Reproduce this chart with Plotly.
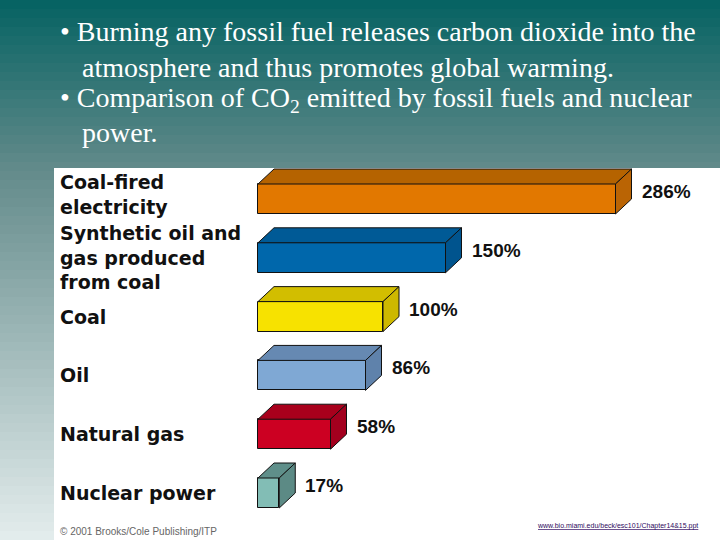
import plotly.graph_objects as go

# ---- data ----
categories = ["Coal-fired<br>electricity",
              "Synthetic oil and<br>gas produced<br>from coal",
              "Coal", "Oil", "Natural gas", "Nuclear power"]
values = [286, 150, 100, 86, 58, 17]
value_labels = ["286%", "150%", "100%", "86%", "58%", "17%"]
front_colors = ["#E27800", "#0067AB", "#F7E200", "#7FA8D4", "#CC0022", "#82BDB5"]
top_colors = ["#B56300", "#005A96", "#D2BE00", "#6689B2", "#A8001C", "#5F8F8A"]
side_colors = ["#BA6404", "#00548E", "#CDB800", "#5F82AB", "#A3001E", "#5C8A85"]
bullet_lines = [
    "\u2022 Burning any fossil fuel releases carbon dioxide into the",
    "atmosphere and thus promotes global warming.",
    "\u2022 Comparison of CO<sub>2</sub> emitted by fossil fuels and nuclear",
    "power.",
]

W, H = 720, 540
# axis geometry (px per unit)
x_scale = 1.25          # px per percent
x0_px = 258
row0_px, row_step = 199, 58.8
bar_h = 0.51
dx = 16 / x_scale       # depth in x units
dy = 15 / row_step      # depth in y units (upwards)

pos = list(range(len(values)))

fig = go.Figure()

# front faces
fig.add_trace(go.Bar(
    x=values, y=pos, orientation="h", width=bar_h,
    marker=dict(color=front_colors, line=dict(color="#111111", width=1)),
    hoverinfo="skip", showlegend=False))

# top and side faces
for v, p, tc, sc in zip(values, pos, top_colors, side_colors):
    yt = p - bar_h / 2
    yb = p + bar_h / 2
    fig.add_trace(go.Scatter(
        x=[0, v, v + dx, dx, 0], y=[yt, yt, yt - dy, yt - dy, yt],
        mode="lines", fill="toself", fillcolor=tc,
        line=dict(color="#111111", width=1), hoverinfo="skip", showlegend=False))
    fig.add_trace(go.Scatter(
        x=[v, v + dx, v + dx, v, v], y=[yt, yt - dy, yb - dy, yb, yt],
        mode="lines", fill="toself", fillcolor=sc,
        line=dict(color="#111111", width=1), hoverinfo="skip", showlegend=False))

annotations = []
# category labels
for i, (c, p) in enumerate(zip(categories, pos)):
    annotations.append(dict(
        x=58 / W, xref="paper", y=p, yref="y", text=c, showarrow=False,
        xanchor="left", yanchor="middle", align="left",
        yshift=5 if i == 0 else 0,
        font=dict(family="DejaVu Sans", size=19, color="#111111", weight="bold")))
# value labels
for v, p, t in zip(values, pos, value_labels):
    annotations.append(dict(
        x=v + dx + 8 / x_scale, y=p - dy / 2, xref="x", yref="y", text=t,
        showarrow=False, xanchor="left", yanchor="middle",
        font=dict(family="Liberation Sans", size=19, color="#111111", weight="bold")))
# bullet text
bullet_y = [32, 67, 100, 133]
bullet_x = [58, 80, 58, 80]
for t, yy, xx in zip(bullet_lines, bullet_y, bullet_x):
    annotations.append(dict(
        x=xx / W, y=1 - yy / H, xref="paper", yref="paper", text=t,
        showarrow=False, xanchor="left", yanchor="middle",
        font=dict(family="Liberation Serif", size=28, color="white")))
# footer
annotations.append(dict(
    x=58 / W, y=1 - 531 / H, xref="paper", yref="paper",
    text="\u00a9 2001 Brooks/Cole Publishing/ITP", showarrow=False,
    xanchor="left", yanchor="middle",
    font=dict(family="Liberation Sans", size=10, color="#666666")))
annotations.append(dict(
    x=700 / W, y=1 - 526 / H, xref="paper", yref="paper",
    text="<u>www.bio.miami.edu/beck/esc101/Chapter14&15.ppt</u>", showarrow=False,
    xanchor="right", yanchor="middle",
    font=dict(family="Liberation Sans", size=7, color="#2E0A5E")))

# background gradient bands
stops = [(0.0, (4, 98, 98)), (0.31, (98, 138, 138)), (1.0, (228, 237, 237))]
def grad(t):
    for (t0, c0), (t1, c1) in zip(stops[:-1], stops[1:]):
        if t <= t1:
            f = (t - t0) / (t1 - t0)
            return "rgb(%d,%d,%d)" % tuple(round(a + (b - a) * f) for a, b in zip(c0, c1))
    return "rgb(%d,%d,%d)" % stops[-1][1]

shapes = []
n_bands = 60
for i in range(n_bands):
    t0 = i / n_bands
    t1 = (i + 1) / n_bands
    shapes.append(dict(type="rect", xref="paper", yref="paper",
                       x0=0, x1=1, y0=1 - t1 - 0.002, y1=1 - t0,
                       fillcolor=grad((t0 + t1) / 2), line=dict(width=0), layer="below"))
shapes.append(dict(type="rect", xref="paper", yref="paper",
                   x0=54 / W, x1=1, y0=0, y1=1 - 168 / H,
                   fillcolor="white", line=dict(width=0), layer="below"))

fig.update_layout(
    width=W, height=H, margin=dict(l=0, r=0, t=0, b=0),
    paper_bgcolor="white", plot_bgcolor="rgba(0,0,0,0)",
    xaxis=dict(range=[-x0_px / x_scale, (W - x0_px) / x_scale], visible=False, fixedrange=True),
    yaxis=dict(range=[(H - row0_px) / row_step, -row0_px / row_step], visible=False, fixedrange=True),
    shapes=shapes, annotations=annotations, showlegend=False, bargap=0,
)

fig.write_html("out.html", config={"displayModeBar": False},
               post_script="document.body.style.margin='0';document.body.style.overflow='hidden';")
